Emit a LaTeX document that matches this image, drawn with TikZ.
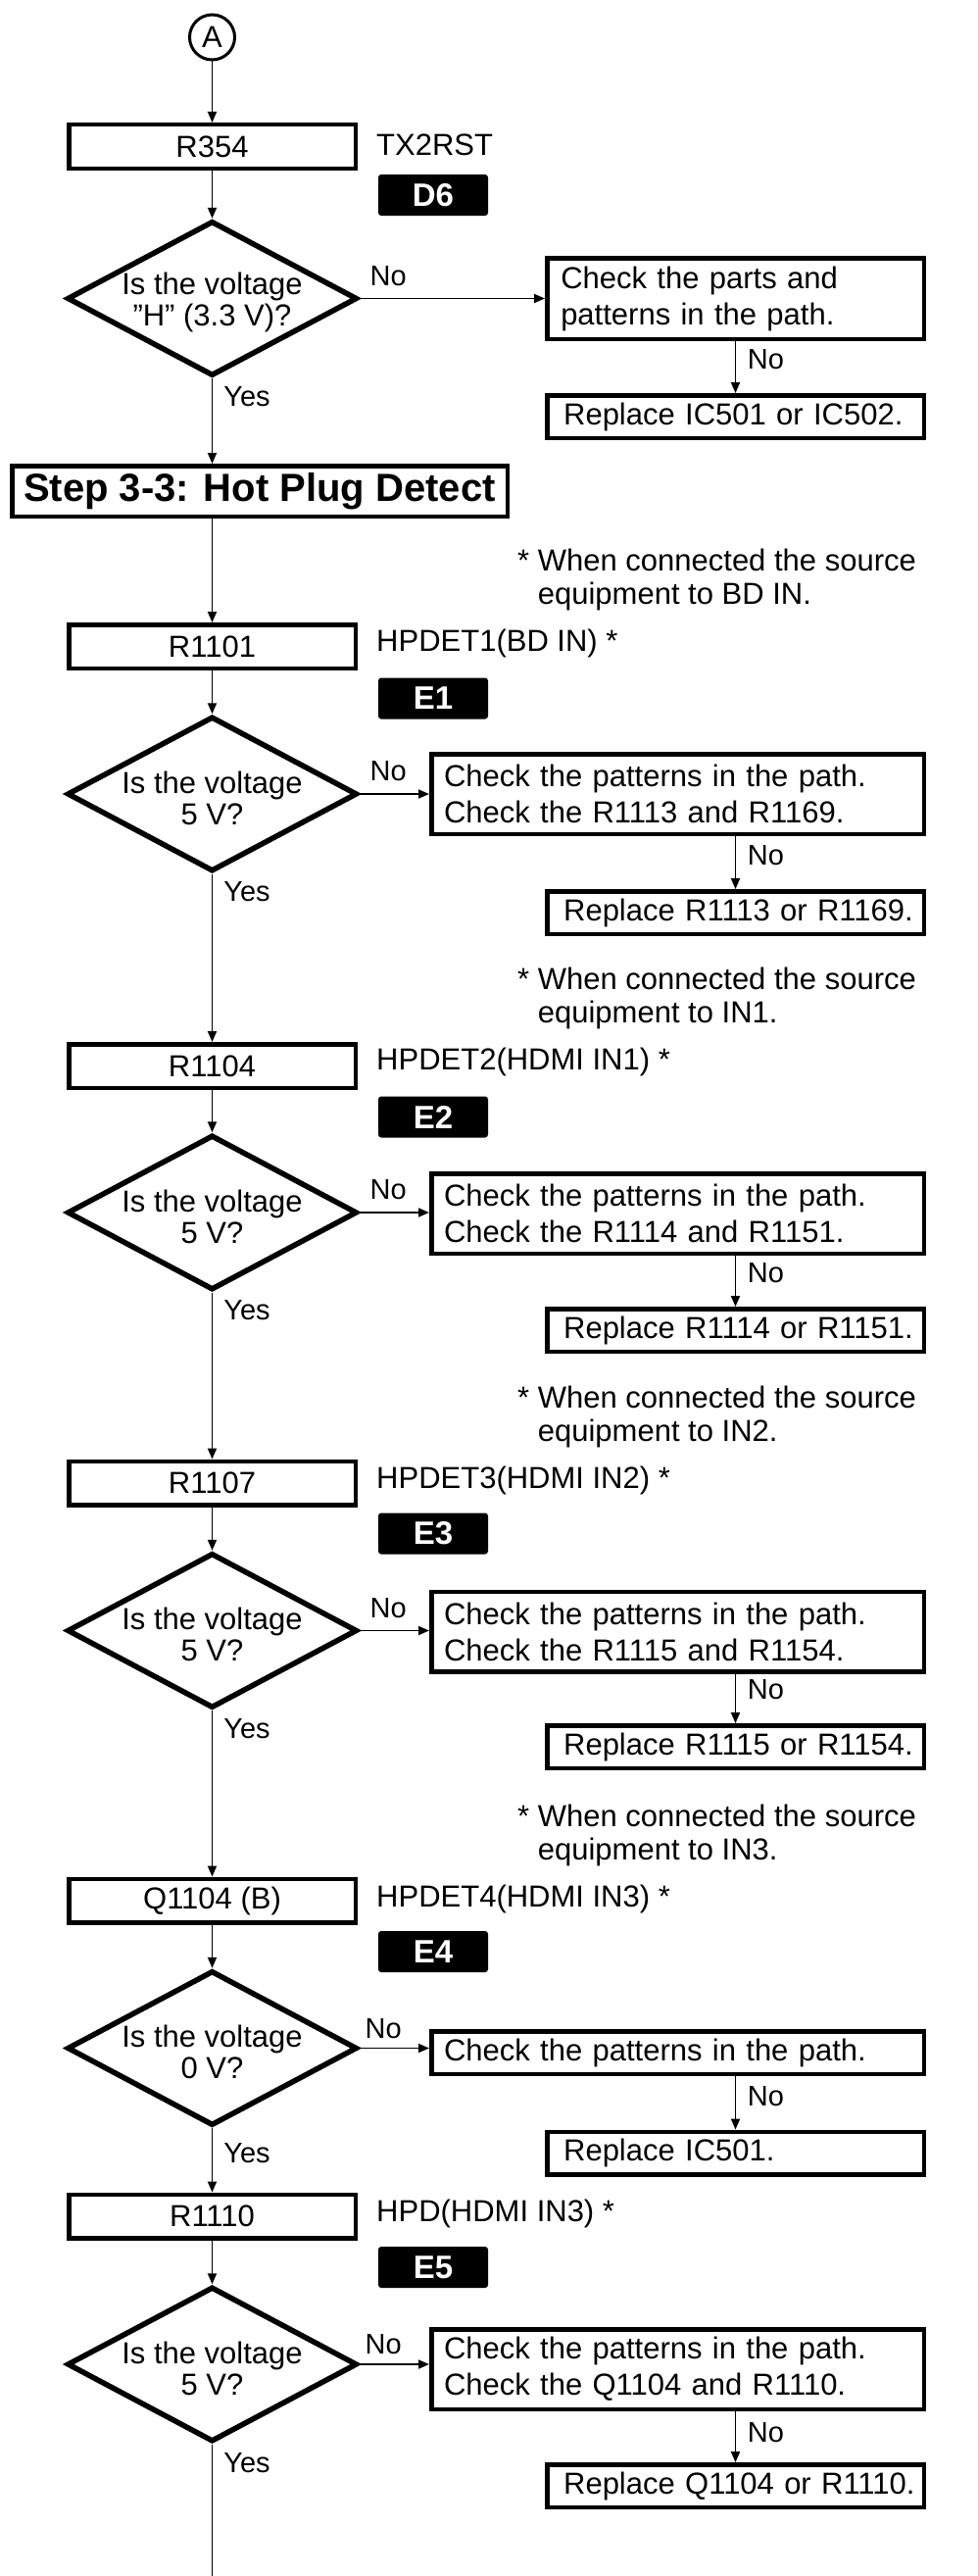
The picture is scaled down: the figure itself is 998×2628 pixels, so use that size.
\documentclass[tikz,border=0pt]{standalone}
\usepackage{fontspec}
\setmainfont{Liberation Sans}
\usetikzlibrary{arrows.meta,shapes.geometric,calc}
\begin{document}
\begin{tikzpicture}[x=1pt,y=-1pt,
  every node/.style={font=\fontsize{31}{37}\selectfont},
  box/.style={draw, line width=4.5pt, inner sep=0pt},
  mainbox/.style={box, minimum width=292.5pt, minimum height=44.5pt},
  chk/.style={box, minimum width=502.5pt, minimum height=81.5pt, text width=477pt, inner xsep=12.75pt, align=left},
  chkone/.style={box, minimum width=384.5pt, minimum height=82.5pt, text width=356.5pt, inner xsep=14pt, align=left},
  rep/.style={box, minimum width=384.5pt, minimum height=43.5pt, text width=350.75pt, inner xsep=16.875pt, align=left},
  stepbox/.style={box, minimum width=505.5pt, minimum height=51.5pt, font=\fontsize{40}{40}\selectfont\bfseries},
  badge/.style={fill=black, rounded corners=3pt, minimum width=112pt, minimum height=42pt, inner sep=0pt, text=white, font=\fontsize{33}{33}\selectfont\bfseries},
  dia/.style={diamond, draw, line width=5.5pt, minimum width=296pt, minimum height=158pt, inner sep=0pt},
  dtext/.style={align=center, inner sep=0pt, font=\fontsize{31}{32}\selectfont},
  circ/.style={circle, draw, line width=3pt, minimum size=46pt, inner sep=0pt},
  side/.style={anchor=west, inner sep=0pt},
  note/.style={anchor=west, align=left, inner sep=0pt, font=\fontsize{31}{34}\selectfont},
  lbl/.style={inner sep=0pt, font=\fontsize{29}{29}\selectfont},
  arr/.style={line width=1.8pt, -{Triangle[length=11pt,width=9pt]}},
  ln/.style={line width=1.8pt}
]
\useasboundingbox (0,0) rectangle (998,2628);

% ---------- section 1 ----------
\node[circ] (A) at (216.5,38) {A};
\node[mainbox] (b1) at (216.5,149.5) {R354};
\node[side] (s1) at (384,148) {TX2RST};
\node[badge] (g1) at (442,199) {D6};
\node[dia] (d1) at (216.5,304.5) {};
\node[dtext] (t1) at ($(d1.center)+(0,4)$) {Is the voltage\\\symbol{34}H\symbol{34} (3.3 V)?};
\node[chkone] (c1) at (750.5,304.5) {Check the parts and\\patterns in the path.};
\node[rep] (p1) at (750.5,425) {\mbox{Replace IC501 or IC502.}};
\node[stepbox] (st) at (265,501) {Step 3-3: Hot Plug Detect};
\node[note] (n1) at (528,591.5) {* When connected the source\\ \hphantom{* }equipment to BD IN.};

% ---------- section 2 ----------
\node[mainbox] (b2) at (216.5,659.5) {R1101};
\node[side] (s2) at (384,656) {HPDET1(BD IN) *};
\node[badge] (g2) at (442,712.5) {E1};
\node[dia] (d2) at (216.5,810) {};
\node[dtext] (t2) at ($(d2.center)+(0,4)$) {Is the voltage\\5 V?};
\node[chk] (c2) at (691.5,810) {Check the patterns in the path.\\Check the R1113 and R1169.};
\node[rep] (p2) at (750.5,931) {\mbox{Replace R1113 or R1169.}};
\node[note] (n2) at (528,1018.5) {* When connected the source\\ \hphantom{* }equipment to IN1.};

% ---------- section 3 ----------
\node[mainbox] (b3) at (216.5,1087.5) {R1104};
\node[side] (s3) at (384,1083) {HPDET2(HDMI IN1) *};
\node[badge] (g3) at (442,1139.5) {E2};
\node[dia] (d3) at (216.5,1237) {};
\node[dtext] (t3) at ($(d3.center)+(0,4)$) {Is the voltage\\5 V?};
\node[chk] (c3) at (691.5,1238) {Check the patterns in the path.\\Check the R1114 and R1151.};
\node[rep] (p3) at (750.5,1357) {\mbox{Replace R1114 or R1151.}};
\node[note] (n3) at (528,1445) {* When connected the source\\ \hphantom{* }equipment to IN2.};

% ---------- section 4 ----------
\node[mainbox] (b4) at (216.5,1513) {R1107};
\node[side] (s4) at (384,1510) {HPDET3(HDMI IN2) *};
\node[badge] (g4) at (442,1564.5) {E3};
\node[dia] (d4) at (216.5,1663.5) {};
\node[dtext] (t4) at ($(d4.center)+(0,4)$) {Is the voltage\\5 V?};
\node[chk] (c4) at (691.5,1664.5) {Check the patterns in the path.\\Check the R1115 and R1154.};
\node[rep] (p4) at (750.5,1782) {\mbox{Replace R1115 or R1154.}};
\node[note] (n4) at (528,1872) {* When connected the source\\ \hphantom{* }equipment to IN3.};

% ---------- section 5 ----------
\node[mainbox] (b5) at (216.5,1939) {Q1104 (B)};
\node[side] (s5) at (384,1937) {HPDET4(HDMI IN3) *};
\node[badge] (g5) at (442,1991) {E4};
\node[dia] (d5) at (216.5,2089.5) {};
\node[dtext] (t5) at ($(d5.center)+(0,4)$) {Is the voltage\\0 V?};
\node[chk, minimum height=43.5pt] (c5) at (691.5,2094) {Check the patterns in the path.};
\node[rep] (p5) at (750.5,2196.5) {\mbox{Replace IC501.}};

% ---------- section 6 ----------
\node[mainbox] (b6) at (216.5,2261) {R1110};
\node[side] (s6) at (384,2258) {HPD(HDMI IN3) *};
\node[badge] (g6) at (442,2313) {E5};
\node[dia] (d6) at (216.5,2412) {};
\node[dtext] (t6) at ($(d6.center)+(0,4)$) {Is the voltage\\5 V?};
\node[chk] (c6) at (691.5,2417) {Check the patterns in the path.\\Check the Q1104 and R1110.};
\node[rep] (p6) at (750.5,2536) {\mbox{Replace Q1104 or R1110.}};
\coordinate (end) at (216.5,2628);

% ---------- connectors ----------
\draw[arr] (A) -- (b1);
\draw[arr] (b1) -- (d1);
\draw[arr] (d1.east) -- (d1.east -| c1.west);
\draw[arr] (c1.south -| p1.north) -- (p1.north);
\draw[arr] (d1.south) -- (d1.south |- st.north);
\draw[arr] (st.south -| b2.north) -- (b2.north);

\draw[arr] (b2) -- (d2);
\draw[arr] (d2.east) -- (d2.east -| c2.west);
\draw[arr] (c2.south -| p2.north) -- (p2.north);
\draw[arr] (d2) -- (b3);

\draw[arr] (b3) -- (d3);
\draw[arr] (d3.east) -- (d3.east -| c3.west);
\draw[arr] (c3.south -| p3.north) -- (p3.north);
\draw[arr] (d3) -- (b4);

\draw[arr] (b4) -- (d4);
\draw[arr] (d4.east) -- (d4.east -| c4.west);
\draw[arr] (c4.south -| p4.north) -- (p4.north);
\draw[arr] (d4) -- (b5);

\draw[arr] (b5) -- (d5);
\draw[arr] (d5.east) -- (d5.east -| c5.west);
\draw[arr] (c5.south -| p5.north) -- (p5.north);
\draw[arr] (d5) -- (b6);

\draw[arr] (b6) -- (d6);
\draw[arr] (d6.east) -- (d6.east -| c6.west);
\draw[arr] (c6.south -| p6.north) -- (p6.north);
\draw[ln] (d6.south) -- (end);

% ---------- Yes / No labels ----------
\node[lbl] (y1) at ($(d1.south)+(35.5,18)$) {Yes};
\node[lbl] (y2) at ($(d2.south)+(35.5,18)$) {Yes};
\node[lbl] (y3) at ($(d3.south)+(35.5,18)$) {Yes};
\node[lbl] (y4) at ($(d4.south)+(35.5,18)$) {Yes};
\node[lbl] (y5) at ($(d5.south)+(35.5,25)$) {Yes};
\node[lbl] (y6) at ($(d6.south)+(35.5,19)$) {Yes};

\node[lbl] (h1) at ($(d1.east)+(29,-23)$) {No};
\node[lbl] (h2) at ($(d2.east)+(29,-23)$) {No};
\node[lbl] (h3) at ($(d3.east)+(29,-23)$) {No};
\node[lbl] (h4) at ($(d4.east)+(29,-23)$) {No};
\node[lbl] (h5) at ($(d5.east)+(24,-20)$) {No};
\node[lbl] (h6) at ($(d6.east)+(24,-20)$) {No};

\node[lbl] (v1) at ($(p1.north)+(31,-34)$) {No};
\node[lbl] (v2) at ($(p2.north)+(31,-34)$) {No};
\node[lbl] (v3) at ($(p3.north)+(31,-34)$) {No};
\node[lbl] (v4) at ($(p4.north)+(31,-34)$) {No};
\node[lbl] (v5) at ($(p5.north)+(31,-34)$) {No};
\node[lbl] (v6) at ($(p6.north)+(31,-30)$) {No};
\end{tikzpicture}
\end{document}
